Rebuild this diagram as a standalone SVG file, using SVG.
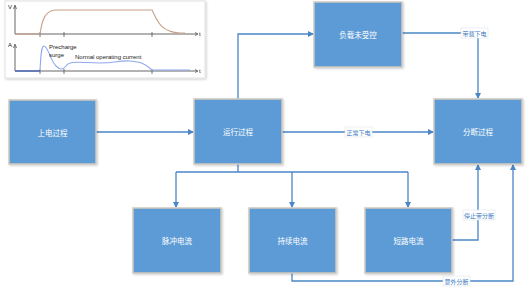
<svg xmlns="http://www.w3.org/2000/svg" width="530" height="298" viewBox="0 0 530 298">
<defs>
<marker id="ah" markerWidth="6" markerHeight="6" refX="5" refY="3" orient="auto" markerUnits="userSpaceOnUse">
<path d="M0,0 L6,3 L0,6 z" fill="#4a86c8"/>
</marker>
<filter id="sh" x="-5%" y="-5%" width="115%" height="115%">
<feDropShadow dx="1" dy="1" stdDeviation="0.8" flood-color="#000" flood-opacity="0.2"/>
</filter>
</defs>
<style>
.box{fill:#5b9bd5;stroke:#cfc9c0;stroke-width:1.5;filter:url(#sh)}
.bt{fill:#fff;font-family:"Noto Sans CJK SC","Noto Sans",sans-serif;font-size:7.5px;text-anchor:middle;dominant-baseline:central}
.c{fill:none;stroke:#4a86c8;stroke-width:1.3}
.lb{fill:#fff;stroke:#dde3ea;stroke-width:0.6}
.lt{fill:#3a78c0;font-family:"Noto Sans CJK SC","Noto Sans",sans-serif;font-size:6px;text-anchor:middle;dominant-baseline:central}
.ax{fill:none;stroke:#555;stroke-width:0.9}
.ct{fill:#222;font-family:"Liberation Sans",Arial,sans-serif;font-size:6px}
</style>
<g id="chart">
<rect x="5" y="1" width="200" height="77" fill="#fff" stroke="#e2e2e2" stroke-width="1" filter="url(#sh)"/>
<path class="ax" d="M15,34 V6 M15,34 H197 M15,71 V46 M15,71 H197"/>
<path d="M13.5,9 L15,5 L16.5,9 M13.5,48 L15,44 L16.5,48" fill="none" stroke="#555" stroke-width="0.8"/>
<path d="M195,32.5 L198,34 L195,35.5 M195,69.5 L198,71 L195,72.5" fill="none" stroke="#555" stroke-width="0.8"/>
<path d="M40,32 V37 M64,32 V37 M152,32 V37 M40,69 V74 M64,69 V74 M152,69 V74" stroke="#555" stroke-width="0.8"/>
<text class="ct" x="12" y="9" text-anchor="end">V</text>
<text class="ct" x="12" y="47" text-anchor="end">A</text>
<text class="ct" x="199" y="36">t</text>
<text class="ct" x="199" y="73">t</text>
<path d="M15,34 H40 C42,20 45,11 55,10 H152 C157,20 160,32 180,33 H185" fill="none" stroke="#c9a08a" stroke-width="1.1"/>
<path d="M15,71 H40 C41,50 42,46 44,46 C48,46 50,60 56,66 C60,70 63,70 66,66 C70,60 80,63 100,63 C115,63 120,60 130,61 C140,62 145,63 152,70 H190" fill="none" stroke="#8fa8ee" stroke-width="1.1"/>
<path d="M15,71 H40" fill="none" stroke="#3a55a0" stroke-width="1.1"/>
<text class="ct" x="49" y="49">Precharge</text>
<text class="ct" x="49" y="57">surge</text>
<text class="ct" x="75" y="59">Normal operating current</text>
</g>
<g id="connectors">
<path class="c" d="M96,132 H193" stroke="#7f9fc4" marker-end="url(#ah)"/>
<path class="c" d="M238,99 V34 H313" marker-end="url(#ah)"/>
<path class="c" d="M402,33 H478 V98" marker-end="url(#ah)"/>
<path class="c" d="M282,132 H433" marker-end="url(#ah)"/>
<path class="c" d="M238,164 V172"/>
<path class="c" d="M176,172 H408"/>
<path class="c" d="M176,172 V207" marker-end="url(#ah)"/>
<path class="c" d="M292,172 V207" marker-end="url(#ah)"/>
<path class="c" d="M408,172 V207" marker-end="url(#ah)"/>
<path class="c" d="M452,240 H478 V165" marker-end="url(#ah)"/>
<path class="c" d="M292,273 V281 H513 V165" marker-end="url(#ah)"/>
<rect class="lb" x="461" y="28" width="27" height="10"/>
<text class="lt" x="474.5" y="33">带载下电</text>
<rect class="lb" x="345" y="127" width="27" height="10"/>
<text class="lt" x="358.5" y="132">正常下电</text>
<rect class="lb" x="463" y="210" width="32" height="10"/>
<text class="lt" x="479" y="215">停止带分断</text>
<rect class="lb" x="443" y="276" width="27" height="10"/>
<text class="lt" x="456.5" y="281">意外分断</text>
</g>
<g id="n1"><rect class="box" x="9" y="100" width="87" height="64"/><text class="bt" x="52.5" y="132">上电过程</text></g>
<g id="n2"><rect class="box" x="194" y="99" width="88" height="65"/><text class="bt" x="238" y="131.5">运行过程</text></g>
<g id="n3"><rect class="box" x="314" y="2" width="88" height="65"/><text class="bt" x="358" y="34.5">负载未受控</text></g>
<g id="n4"><rect class="box" x="434" y="99" width="88" height="65"/><text class="bt" x="478" y="131.5">分断过程</text></g>
<g id="n5"><rect class="box" x="133" y="208" width="88" height="65"/><text class="bt" x="177" y="240.5">脉冲电流</text></g>
<g id="n6"><rect class="box" x="249" y="208" width="87" height="65"/><text class="bt" x="292.5" y="240.5">持续电流</text></g>
<g id="n7"><rect class="box" x="365" y="208" width="87" height="65"/><text class="bt" x="408.5" y="240.5">短路电流</text></g>
</svg>
